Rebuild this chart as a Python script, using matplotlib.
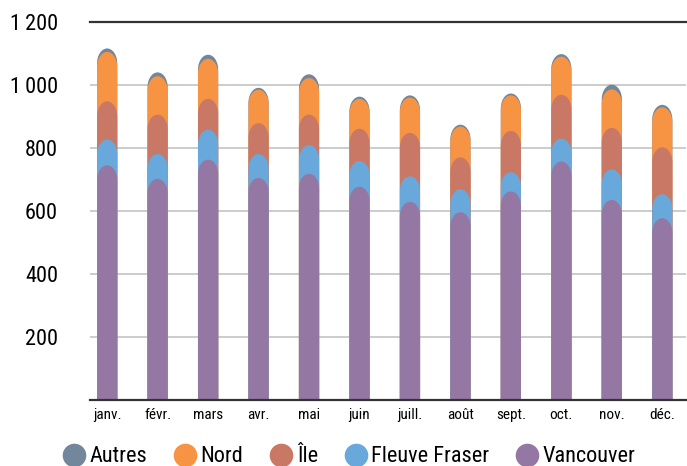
import numpy as np
import matplotlib
matplotlib.use('Agg')
import matplotlib.pyplot as plt
from matplotlib import font_manager
from matplotlib.path import Path
from matplotlib.patches import PathPatch
from matplotlib.lines import Line2D

# prefer a condensed face if one is installed, else Roboto
installed = {f.name for f in font_manager.fontManager.ttflist}
condensed = [n for n in ['Roboto Condensed', 'Liberation Sans Narrow', 'Open Sans Condensed']
             if n in installed]
if condensed:
    plt.rcParams['font.family'] = [condensed[0], 'DejaVu Sans']
    ysize, xsize, lsize = 16, 11, 16
else:
    plt.rcParams['font.family'] = ['Roboto', 'DejaVu Sans']
    ysize, xsize, lsize = 14, 10.5, 14

# Data
months = ['janv.', 'févr.', 'mars', 'avr.', 'mai', 'juin',
          'juill.', 'août', 'sept.', 'oct.', 'nov.', 'déc.']
vancouver = [745, 702, 763, 705, 718, 677, 629, 596, 662, 757, 635, 577]
fleuve = [82, 79, 95, 76, 91, 82, 81, 73, 61, 73, 97, 76]
ile = [121, 125, 98, 98, 97, 102, 138, 101, 131, 139, 132, 149]
nord = [157, 122, 127, 106, 116, 95, 112, 98, 113, 121, 122, 127]
autres = [11, 12, 13, 6, 12, 7, 7, 6, 6, 8, 15, 8]

series_names = ['Vancouver', 'Fleuve Fraser', 'Île', 'Nord', 'Autres']
series_vals = [vancouver, fleuve, ile, nord, autres]
colors = ['#9577A3', '#68A8DA', '#C97866', '#F79444', '#72869C']

ytick_vals = [200, 400, 600, 800, 1000, 1200]
ytick_labels = ['200', '400', '600', '800', '1\u2009000', '1\u2009200']


def rounded_bar(ax, xc, top, width, ry, color, z):
    # bar from 0 to top with an elliptical cap
    x0, x1 = xc - width / 2, xc + width / 2
    rx = width / 2
    k = 0.5523
    yb = top - ry
    verts = [(x0, 0), (x0, yb),
             (x0, yb + k * ry), (xc - k * rx, top), (xc, top),
             (xc + k * rx, top), (x1, yb + k * ry), (x1, yb),
             (x1, 0), (x0, 0)]
    codes = [Path.MOVETO, Path.LINETO,
             Path.CURVE4, Path.CURVE4, Path.CURVE4,
             Path.CURVE4, Path.CURVE4, Path.CURVE4,
             Path.LINETO, Path.CLOSEPOLY]
    ax.add_patch(PathPatch(Path(verts, codes), facecolor=color,
                           edgecolor='none', zorder=z))


fig = plt.figure(figsize=(6.87, 4.66), dpi=100)
ax = fig.add_axes([90 / 687, 66 / 466, 596 / 687, 378 / 466])

x = np.arange(len(months))
cum = np.cumsum(np.array(series_vals), axis=0)
bar_w = 0.4
ry = 47

# tallest (cumulative) drawn first so lower series sit in front
for i in range(len(series_names) - 1, -1, -1):
    for j, xc in enumerate(x):
        rounded_bar(ax, xc, cum[i][j], bar_w, ry, colors[i], 3 + (5 - i))

ax.set_xlim(-0.34, 11.47)
ax.set_ylim(0, 1200)

for v in ytick_vals[:-1]:
    ax.axhline(v, color='#C4C4C4', lw=1.2, zorder=1)
ax.axhline(1200, color='#333333', lw=1.6, zorder=2, clip_on=False)
ax.axhline(0, color='#333333', lw=1.6, zorder=10, clip_on=False)

for s in ax.spines.values():
    s.set_visible(False)

ax.set_xticks(x)
ax.set_xticklabels(months, fontsize=xsize)
ax.set_yticks(ytick_vals)
ax.set_yticklabels(ytick_labels, fontsize=ysize)
ax.tick_params(axis='both', length=0)
ax.tick_params(axis='y', pad=23)
ax.tick_params(axis='x', pad=6)

handles = [Line2D([], [], marker='o', linestyle='none', markersize=17,
                  markerfacecolor=colors[i], markeredgecolor='none')
           for i in range(len(series_names) - 1, -1, -1)]
labels = series_names[::-1]
fig.legend(handles, labels, loc='center', bbox_to_anchor=(348 / 687, 9 / 466),
           ncol=5, frameon=False, fontsize=lsize, handletextpad=0.1,
           columnspacing=1.1, handlelength=1.2)

fig.savefig('out.png', dpi=100)
